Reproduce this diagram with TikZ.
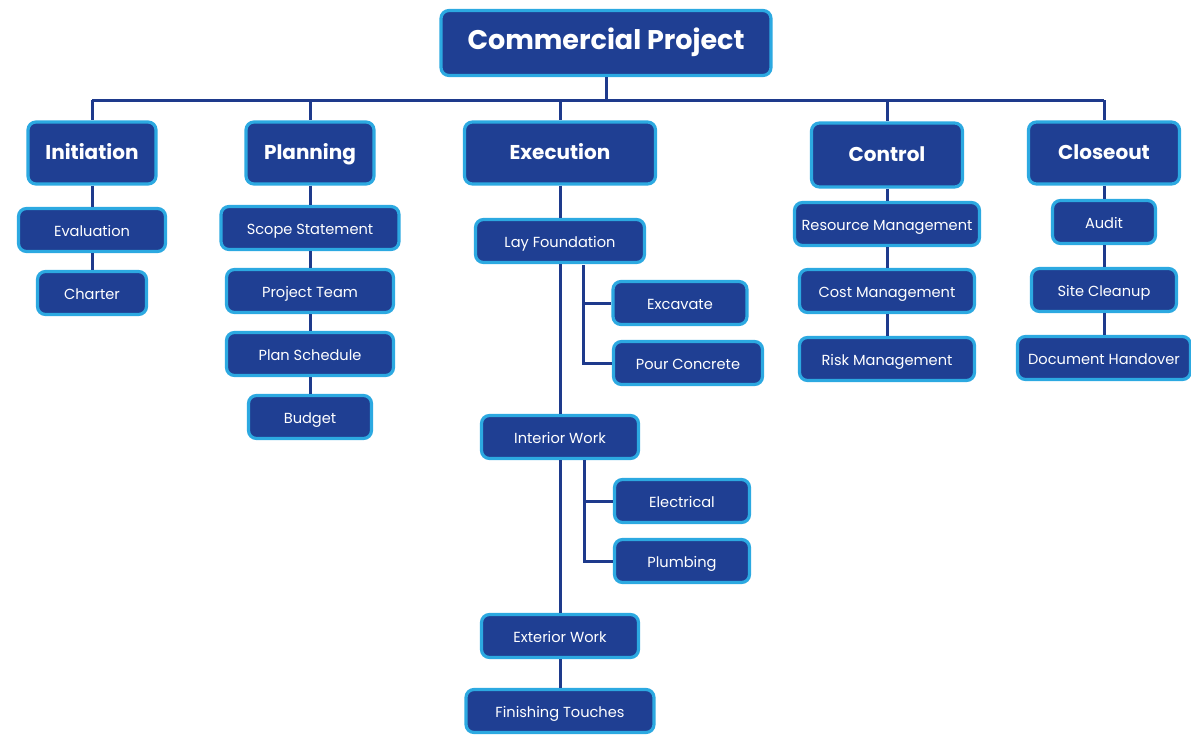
\documentclass[tikz,border=0pt]{standalone}
\usepackage{fontspec}
\setmainfont{Poppins}
\definecolor{boxfill}{RGB}{31,63,147}
\definecolor{boxline}{RGB}{44,169,225}
\definecolor{linkcol}{RGB}{30,58,140}
\tikzset{
  box/.style={draw=boxline, line width=1.6pt, fill=boxfill, rounded corners=4pt,
    text=white, inner sep=0pt, align=center, minimum width=#1,
    text height=0.62em, text depth=0pt},
  rootbox/.style={box=#1, minimum height=32.5pt, font=\bfseries\fontsize{13.5}{16}\selectfont},
  phasebox/.style={box=#1, minimum height=31pt, font=\bfseries\fontsize{10}{12}\selectfont},
  taskbox/.style={box=#1, minimum height=21.5pt, font=\fontsize{7.3}{9}\selectfont},
  link/.style={draw=linkcol, line width=1.5pt}
}
\begin{document}
\begin{tikzpicture}[x=0.50pt,y=0.50pt,yscale=-1,xscale=1]
\useasboundingbox (0,0) rectangle (1191,735);

% Root
\node[rootbox=165pt] (root) at (606,43) {Commercial Project};

% Phases
\node[phasebox=64pt] (init) at (92,153) {Initiation};
\node[phasebox=64pt] (plan) at (310,153) {Planning};
\node[phasebox=95.5pt] (exec) at (560,153) {Execution};
\node[phasebox=75.5pt, minimum height=32pt] (ctrl) at (887,155) {Control};
\node[phasebox=75.5pt] (close) at (1104,153) {Closeout};

% Initiation tasks
\node[taskbox=73.5pt] (eval) at (92,230) {Evaluation};
\node[taskbox=54.5pt] (charter) at (92,293) {Charter};

% Planning tasks
\node[taskbox=89pt] (scope) at (310,228) {Scope Statement};
\node[taskbox=83.5pt] (team) at (310,291) {Project Team};
\node[taskbox=83.5pt] (sched) at (310,354) {Plan Schedule};
\node[taskbox=61.5pt] (budget) at (310,417) {Budget};

% Execution tasks
\node[taskbox=84.5pt] (layf) at (560,241) {Lay Foundation};
\node[taskbox=67pt] (excav) at (680,303) {Excavate};
\node[taskbox=74.5pt] (pour) at (688,363) {Pour Concrete};
\node[taskbox=78.5pt] (inter) at (560,437) {Interior Work};
\node[taskbox=67.5pt] (elec) at (682,501) {Electrical};
\node[taskbox=67.5pt] (plumb) at (682,561) {Plumbing};
\node[taskbox=78.5pt] (exter) at (560,636) {Exterior Work};
\node[taskbox=94pt] (finish) at (560,711) {Finishing Touches};

% Control tasks
\node[taskbox=92.5pt] (res) at (887,224) {Resource Management};
\node[taskbox=87.5pt] (cost) at (887,291) {Cost Management};
\node[taskbox=87.5pt] (risk) at (887,359) {Risk Management};

% Closeout tasks
\node[taskbox=51.5pt] (audit) at (1104,222) {Audit};
\node[taskbox=72.5pt] (clean) at (1104,290) {Site Cleanup};
\node[taskbox=86.5pt] (doc) at (1104,358) {Document Handover};

% Bus
\coordinate (bus) at (606,100);
\draw[link] (root.south) -- (bus);
\draw[link] (bus -| init.north) -- (bus -| close.north);
\foreach \n in {init,plan,exec,ctrl,close}
  \draw[link] (bus -| \n.north) -- (\n.north);

% Chains
\draw[link] (init.south) -- (eval.north);
\draw[link] (eval.south) -- (charter.north);
\draw[link] (plan.south) -- (scope.north);
\draw[link] (scope.south) -- (team.north);
\draw[link] (team.south) -- (sched.north);
\draw[link] (sched.south) -- (budget.north);
\draw[link] (exec.south) -- (layf.north);
\draw[link] (layf.south) -- (inter.north);
\draw[link] (inter.south) -- (exter.north);
\draw[link] (exter.south) -- (finish.north);
\draw[link] (ctrl.south) -- (res.north);
\draw[link] (res.south) -- (cost.north);
\draw[link] (cost.south) -- (risk.north);
\draw[link] (close.south) -- (audit.north);
\draw[link] (audit.south) -- (clean.north);
\draw[link] (clean.south) -- (doc.north);

% Side branches
\coordinate (layfork) at (583,265);
\draw[link] (layfork) |- (excav.west);
\draw[link] (layfork) |- (pour.west);
\coordinate (interfork) at (584,460);
\draw[link] (interfork) |- (elec.west);
\draw[link] (interfork) |- (plumb.west);

\end{tikzpicture}
\end{document}
